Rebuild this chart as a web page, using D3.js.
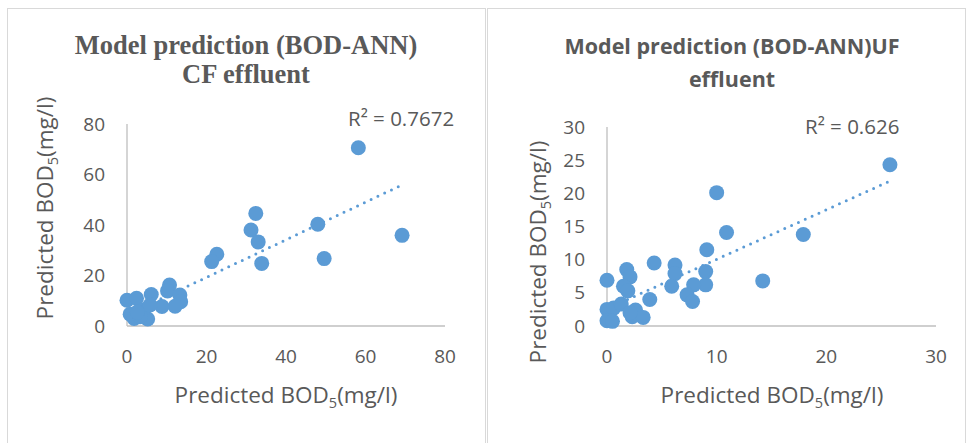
<!DOCTYPE html>
<html>
<head>
<meta charset="utf-8">
<script src="https://cdn.jsdelivr.net/npm/d3@7"></script>
<style>
  body { margin: 0; background: #fff; }
  svg { display: block; }
</style>
</head>
<body>
<svg id="chart" width="967" height="443"></svg>
<script>
// CF effluent points (x, y)
const cfX = [58.2, 32.4, 31.2, 33.0, 33.9, 22.6, 21.3, 48.0, 49.6, 69.2,
             0, 2.4, 6.1, 10.7, 10.2, 13.3, 13.5, 12.1, 8.8, 0.8, 1.8, 5.2, 4.1, 5.8, 3.3, 2.6];
const cfY = [70.6, 44.6, 38.0, 33.3, 24.8, 28.4, 25.5, 40.3, 26.7, 35.9,
             10.2, 11.0, 12.5, 16.2, 13.9, 12.3, 9.6, 7.8, 7.7, 4.7, 3.0, 2.8, 6.4, 8.3, 3.7, 5.5];
const cfTrend = [0.744, 4.4];   // slope, intercept as drawn
const cfR2 = "0.7672";

// UF effluent points (x, y)
const ufX = [25.8, 10.0, 10.9, 17.9, 9.1, 4.3, 6.2, 6.2, 9.0, 9.0, 14.2, 5.9, 7.9, 7.3, 7.8, 3.9,
             0, 1.8, 2.1, 1.5, 1.9, 0, 0.6, 1.3, 0, 0.5, 2.3, 2.6, 3.3, 2.1];
const ufY = [24.3, 20.1, 14.1, 13.8, 11.5, 9.5, 9.2, 7.9, 8.2, 6.2, 6.8, 6.0, 6.2, 4.7, 3.7, 4.0,
             6.9, 8.5, 7.4, 6.0, 5.3, 2.5, 2.7, 3.3, 0.8, 0.7, 1.4, 2.4, 1.3, 2.0];
const ufTrend = [0.746, 2.6];
const ufR2 = "0.626";

const cfTicks = [0, 20, 40, 60, 80];
const ufXTicks = [0, 10, 20, 30];
const ufYTicks = [0, 5, 10, 15, 20, 25, 30];

const svg = d3.select("#chart");
const dotColor = "#5b9bd5";
const textColor = "#595959";
const sans = "'Open Sans', 'Noto Sans', sans-serif";

// panel frames
svg.append("rect").attr("x", 7.5).attr("y", 8.5).attr("width", 478).attr("height", 460)
    .attr("fill", "none").attr("stroke", "#d9d9d9");
svg.append("rect").attr("x", 487.5).attr("y", 8.5).attr("width", 478).attr("height", 460)
    .attr("fill", "none").attr("stroke", "#d9d9d9");

function drawPanel(p) {
    const g = svg.append("g");
    const x = d3.scaleLinear().domain(p.xDomain).range([p.left, p.right]);
    const y = d3.scaleLinear().domain(p.yDomain).range([p.bottom, p.top]);

    // axis lines
    g.append("line").attr("x1", p.left).attr("x2", p.left).attr("y1", p.top).attr("y2", p.bottom)
        .attr("stroke", "#bfbfbf").attr("stroke-width", 1.3);
    g.append("line").attr("x1", p.left).attr("x2", p.right).attr("y1", p.bottom).attr("y2", p.bottom)
        .attr("stroke", "#bfbfbf").attr("stroke-width", 1.3);

    // tick labels
    g.selectAll(".yt").data(p.yTicks).enter().append("text")
        .attr("x", p.left - 22).attr("y", d => y(d)).attr("dy", "0.35em")
        .attr("text-anchor", "end").attr("font-family", sans).attr("font-size", 19)
        .attr("fill", textColor).text(d => d);
    g.selectAll(".xt").data(p.xTicks).enter().append("text")
        .attr("x", d => x(d)).attr("y", p.bottom + 37)
        .attr("text-anchor", "middle").attr("font-family", sans).attr("font-size", 19)
        .attr("fill", textColor).text(d => d);

    // trendline (dotted)
    const [m, b] = p.trend;
    const xe = d3.extent(p.xs);
    g.append("line")
        .attr("x1", x(xe[0])).attr("y1", y(m * xe[0] + b))
        .attr("x2", x(xe[1])).attr("y2", y(m * xe[1] + b))
        .attr("stroke", dotColor).attr("stroke-width", 3)
        .attr("stroke-linecap", "round").attr("stroke-dasharray", "0 7.5");

    // points
    g.selectAll("circle").data(p.xs.map((v, i) => [v, p.ys[i]])).enter().append("circle")
        .attr("cx", d => x(d[0])).attr("cy", d => y(d[1])).attr("r", 7.5)
        .attr("fill", dotColor);

    // R² label
    g.append("text").attr("x", p.r2x).attr("y", p.r2y)
        .attr("font-family", sans).attr("font-size", 20.5).attr("fill", textColor)
        .text("R² = " + p.r2);

    // titles
    const t = g.append("text").attr("text-anchor", "middle")
        .attr("font-family", p.titleFont).attr("font-weight", "bold")
        .attr("font-size", p.titleSize).attr("fill", textColor);
    p.title.forEach((line, i) => {
        t.append("tspan").attr("x", p.titleX).attr("y", p.titleY[i]).text(line);
    });

    // axis titles
    function axisTitle(sel) {
        sel.attr("font-family", sans).attr("font-size", 22.5).attr("fill", textColor)
            .attr("text-anchor", "middle");
        sel.append("tspan").text("Predicted BOD");
        sel.append("tspan").attr("font-size", 14.5).attr("dy", 5).text("5");
        sel.append("tspan").attr("dy", -5).text("(mg/l)");
    }
    axisTitle(g.append("text").attr("x", p.xtX).attr("y", 403));
    axisTitle(g.append("text")
        .attr("transform", `translate(${p.ytX},${p.ytY}) rotate(-90)`));
}

drawPanel({
    xs: cfX, ys: cfY, trend: cfTrend, r2: cfR2,
    xDomain: [0, 80], yDomain: [0, 80], xTicks: cfTicks, yTicks: cfTicks,
    left: 127, right: 445, top: 124, bottom: 326,
    r2x: 348, r2y: 126,
    title: ["Model prediction (BOD-ANN)", "CF effluent"],
    titleFont: "'Liberation Serif', 'Times New Roman', serif", titleSize: 26.5,
    titleX: 246, titleY: [54, 83],
    xtX: 286, ytX: 53, ytY: 208
});

drawPanel({
    xs: ufX, ys: ufY, trend: ufTrend, r2: ufR2,
    xDomain: [0, 30], yDomain: [0, 30], xTicks: ufXTicks, yTicks: ufYTicks,
    left: 607, right: 936, top: 127, bottom: 326,
    r2x: 805, r2y: 134,
    title: ["Model prediction (BOD-ANN)UF", "effluent"],
    titleFont: sans, titleSize: 21.5,
    titleX: 732, titleY: [54, 87],
    xtX: 772, ytX: 546, ytY: 252
});
</script>
</body>
</html>
